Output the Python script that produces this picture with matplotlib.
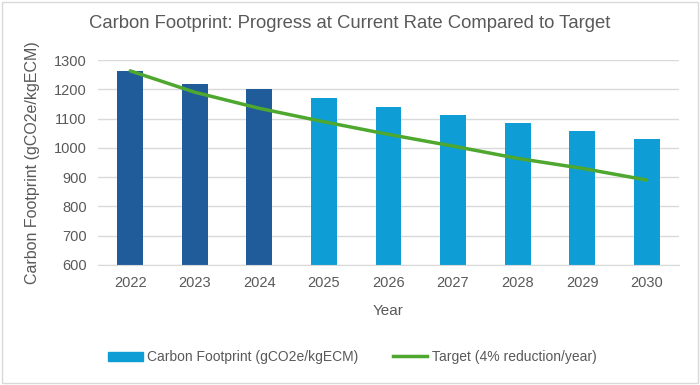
import matplotlib.pyplot as plt
from matplotlib.patches import Rectangle
from matplotlib.lines import Line2D
from matplotlib.patches import Patch

years = ['2022', '2023', '2024', '2025', '2026', '2027', '2028', '2029', '2030']
footprint = [1263, 1218, 1200, 1169, 1141, 1111, 1084, 1058, 1031]
target = [1263, 1190, 1135, 1089, 1046, 1006, 964, 930, 890]
actualCount = 3  # first three years are actual (darker)

darkBlue = '#1F5C99'
lightBlue = '#0E9ED5'
green = '#4EA72E'
textGrey = '#595959'

plt.rcParams['font.family'] = ['Liberation Sans', 'DejaVu Sans']

fig = plt.figure(figsize=(7, 3.85), dpi=100)
ax = fig.add_axes([0.14, 0.312, 0.83, 0.532])

x = list(range(len(years)))
colors = [darkBlue if i < actualCount else lightBlue for i in x]
ax.bar(x, [v - 600 for v in footprint], bottom=600, width=0.4, color=colors, zorder=2)
ax.plot(x, target, color=green, linewidth=2.5, zorder=3, solid_capstyle='round')

ax.set_xlim(-0.5, len(years) - 0.5)
ax.set_ylim(600, 1300)
ax.set_yticks(range(600, 1301, 100))
ax.set_xticks(x)
ax.set_xticklabels(years)
ax.tick_params(axis='both', length=0, labelsize=10.5, colors=textGrey, pad=8)
ax.grid(axis='y', color='#D9D9D9', linewidth=1, zorder=0)
for s in ['top', 'right', 'left']:
    ax.spines[s].set_visible(False)
ax.spines['bottom'].set_color('#D9D9D9')

ax.set_xlabel('Year', fontsize=11, color=textGrey, labelpad=10)
ax.set_ylabel('Carbon Footprint (gCO2e/kgECM)', fontsize=11.5, color=textGrey, labelpad=10)
fig.text(0.5, 0.94, 'Carbon Footprint: Progress at Current Rate Compared to Target',
         ha='center', va='center', fontsize=13.3, color=textGrey)

handles = [Patch(color=lightBlue, label='Carbon Footprint (gCO2e/kgECM)'),
           Line2D([0], [0], color=green, linewidth=2.5, label='Target (4% reduction/year)')]
fig.legend(handles=handles, loc='center', bbox_to_anchor=(0.503, 0.072), ncol=2, frameon=False,
           fontsize=10, labelcolor=textGrey, handlelength=2.5, handletextpad=0.3, columnspacing=2.5)

fig.patches.append(Rectangle((0.003, 0.005), 0.994, 0.99, transform=fig.transFigure,
                             fill=False, edgecolor='#D9D9D9', linewidth=1))

fig.savefig('out.png', dpi=100)
